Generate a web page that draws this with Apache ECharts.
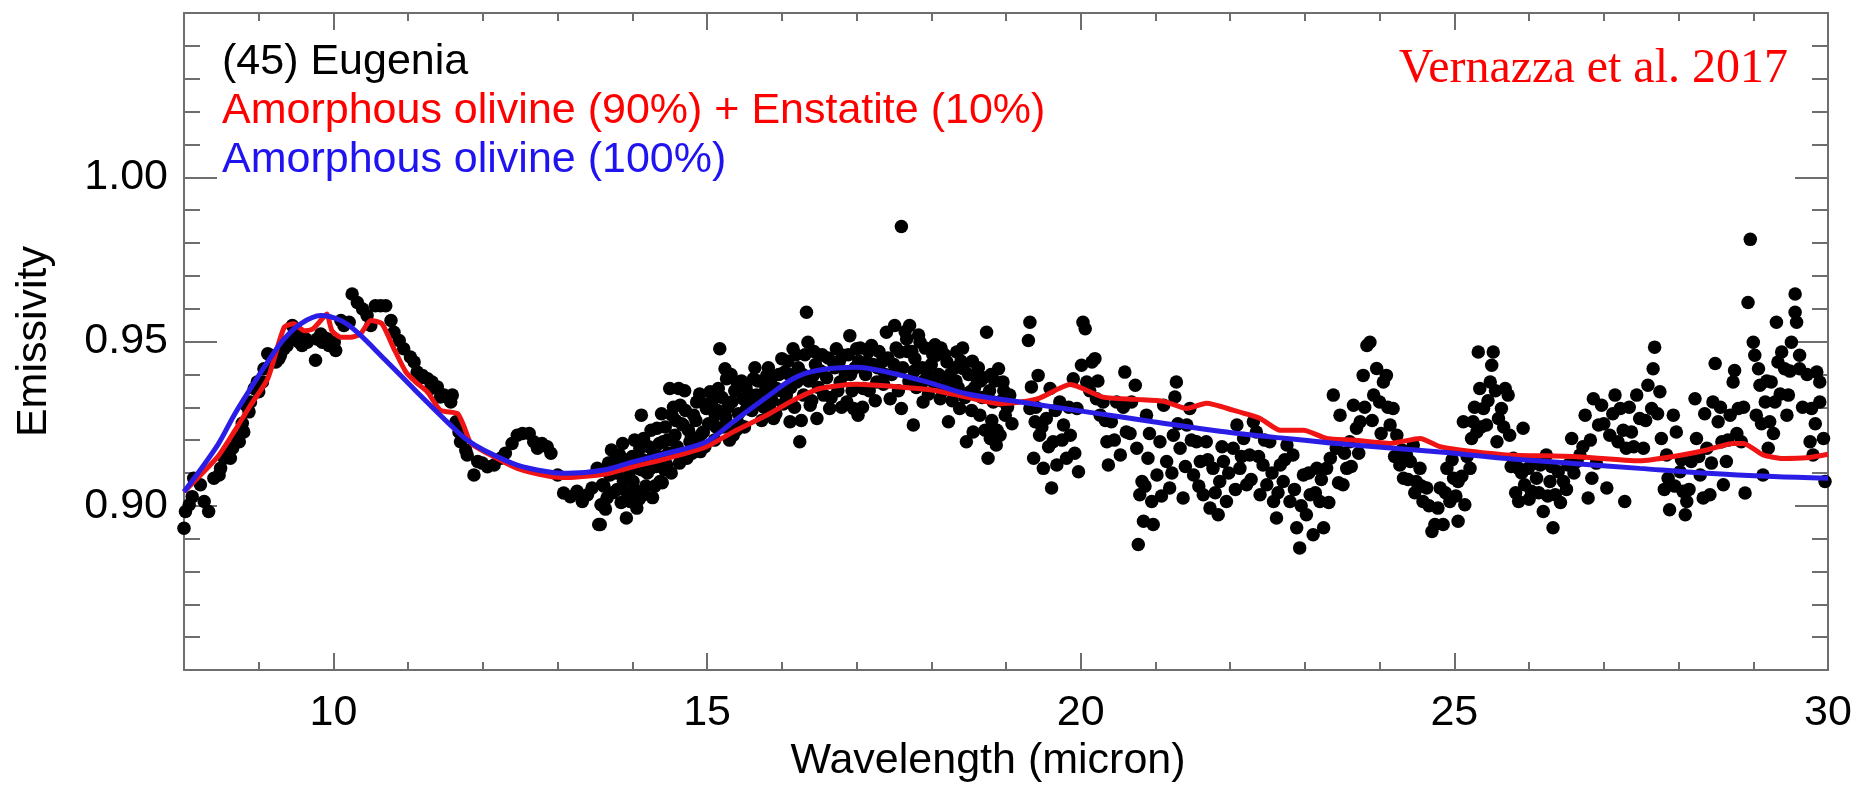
<!DOCTYPE html>
<html>
<head>
<meta charset="utf-8">
<script src="https://cdn.jsdelivr.net/npm/echarts@6/dist/echarts.min.js"></script>
<style>
html,body{margin:0;padding:0;background:#fff;}
#c{width:1867px;height:788px;}
</style>
</head>
<body>
<div id="c"></div>
<script>
// ---- Data ----
const xMajorTicks = [10, 15, 20, 25, 30];
const yLabelTicks = [0.90, 0.95, 1.00];

// Observed emissivity (wavelength micron, emissivity)
const obs8to13 = [[8.02,0.8983],[8.07,0.9003],[8.00,0.8932],[8.11,0.9028],[8.13,0.9084],[8.22,0.9064],[8.27,0.9013],[8.33,0.8983],[8.40,0.9084],[8.47,0.9094],[8.49,0.9114],[8.54,0.9145],[8.58,0.9160],[8.62,0.9145],[8.65,0.9175],[8.71,0.9205],[8.74,0.9195],[8.78,0.9251],[8.80,0.9225],[8.83,0.9306],[8.87,0.9286],[8.89,0.9316],[8.94,0.9357],[8.98,0.9377],[9.00,0.9347],[9.05,0.9377],[9.07,0.9417],[9.12,0.9463],[9.16,0.9458],[9.18,0.9438],[9.23,0.9438],[9.27,0.9448],[9.29,0.9458],[9.34,0.9478],[9.38,0.9488],[9.45,0.9549],[9.47,0.9513],[9.52,0.9518],[9.54,0.9498],[9.58,0.9488],[9.63,0.9508],[9.65,0.9498],[9.76,0.9443],[9.78,0.9508],[9.83,0.9523],[9.85,0.9498],[9.87,0.9513],[9.92,0.9508],[9.94,0.9488],[10.01,0.9498],[10.03,0.9473],[10.10,0.9564],[10.14,0.9549],[10.21,0.9559],[10.25,0.9645],[10.32,0.9619],[10.39,0.9599],[10.45,0.9579],[10.50,0.9549],[10.56,0.9609],[10.63,0.9609],[10.70,0.9609],[10.77,0.9564],[10.81,0.9528],[10.88,0.9503],[10.94,0.9478],[11.03,0.9453],[11.08,0.9438],[11.12,0.9407],[11.14,0.9387],[11.19,0.9397],[11.26,0.9387],[11.30,0.9357],[11.32,0.9377],[11.39,0.9362],[11.43,0.9331],[11.48,0.9337],[11.52,0.9331],[11.57,0.9316],[11.59,0.9337],[11.64,0.9256],[11.68,0.9225],[11.70,0.9195],[11.77,0.9170],[11.79,0.9155],[11.88,0.9094],[11.93,0.9135],[11.99,0.9130],[12.06,0.9119],[12.15,0.9124],[12.24,0.9145],[12.30,0.9160],[12.39,0.9190],[12.46,0.9215],[12.53,0.9220],[12.62,0.9220],[12.68,0.9195],[12.73,0.9175],[12.79,0.9190],[12.86,0.9180],[12.91,0.9160],[13.00,0.9094],[13.08,0.9039],[13.17,0.9028],[13.26,0.9044],[13.33,0.9013],[13.40,0.9034],[13.46,0.9054],[13.53,0.9114],[13.55,0.8943],[13.58,0.9003],[13.60,0.9064]];

const obs13to19 = [[13.57,0.8943],[13.66,0.9024],[13.70,0.9094],[13.75,0.9135],[13.83,0.9155],[13.88,0.9074],[13.92,0.8963],[13.97,0.9013],[14.01,0.9074],[14.06,0.8993],[14.08,0.9114],[14.10,0.9175],[14.15,0.9205],[14.15,0.9034],[14.12,0.9276],[14.24,0.9114],[14.28,0.9155],[14.33,0.9236],[14.37,0.9074],[14.41,0.9195],[14.46,0.9124],[14.50,0.9357],[14.53,0.9276],[14.57,0.9215],[14.62,0.9357],[14.64,0.9306],[14.68,0.9246],[14.73,0.9145],[14.77,0.9195],[14.82,0.9276],[14.86,0.9316],[14.91,0.9165],[14.95,0.9225],[14.99,0.9296],[15.04,0.9347],[15.11,0.9276],[15.15,0.9357],[15.17,0.9478],[15.24,0.9417],[15.26,0.9387],[15.33,0.9316],[15.35,0.9215],[15.40,0.9377],[15.44,0.9246],[15.48,0.9326],[15.53,0.9296],[15.62,0.9387],[15.66,0.9337],[15.75,0.9377],[15.80,0.9397],[15.84,0.9296],[15.89,0.9266],[15.93,0.9357],[16.00,0.9448],[16.04,0.9407],[16.06,0.9337],[16.11,0.9256],[16.15,0.9478],[16.20,0.9377],[16.24,0.9195],[16.29,0.9337],[16.33,0.9589],[16.35,0.9498],[16.38,0.9306],[16.42,0.9397],[16.47,0.9266],[16.51,0.9458],[16.56,0.9337],[16.64,0.9296],[16.69,0.9438],[16.73,0.9478],[16.78,0.9377],[16.82,0.9458],[16.87,0.9316],[16.91,0.9518],[16.96,0.9296],[17.00,0.9478],[17.02,0.9276],[17.09,0.9357],[17.14,0.9438],[17.20,0.9488],[17.27,0.9377],[17.34,0.9438],[17.40,0.9528],[17.45,0.9326],[17.51,0.9549],[17.58,0.9468],[17.60,0.9296],[17.60,0.9850],[17.67,0.9508],[17.71,0.9549],[17.76,0.9246],[17.78,0.9448],[17.85,0.9498],[17.89,0.9316],[17.94,0.9407],[17.98,0.9478],[18.03,0.9377],[18.07,0.9458],[18.12,0.9326],[18.21,0.9438],[18.23,0.9256],[18.30,0.9377],[18.34,0.9468],[18.38,0.9296],[18.43,0.9417],[18.47,0.9195],[18.52,0.9347],[18.56,0.9225],[18.61,0.9387],[18.65,0.9276],[18.74,0.9528],[18.76,0.9145],[18.79,0.9205],[18.83,0.9316],[18.87,0.9185],[18.90,0.9417],[18.92,0.9215],[18.96,0.9377],[18.99,0.9276],[19.05,0.9337]];

const obs13to19dense = [[13.62,0.9060],[13.68,0.9130],[13.74,0.9040],[13.79,0.9100],[13.85,0.9010],[13.90,0.9140],[13.95,0.9090],[14.00,0.9150],[14.05,0.9045],[14.12,0.9110],[14.18,0.9060],[14.22,0.9180],[14.27,0.9025],[14.32,0.9120],[14.36,0.9190],[14.40,0.9070],[14.44,0.9240],[14.48,0.9160],[14.52,0.9100],[14.55,0.9300],[14.60,0.9180],[14.66,0.9250],[14.70,0.9350],[14.75,0.9230],[14.80,0.9160],[14.85,0.9260],[14.90,0.9340],[14.93,0.9220],[14.97,0.9180],[15.02,0.9250],[15.07,0.9320],[15.10,0.9200],[15.14,0.9290],[15.20,0.9330],[15.22,0.9240],[15.28,0.9300],[15.30,0.9200],[15.37,0.9350],[15.42,0.9280],[15.46,0.9380],[15.50,0.9240],[15.56,0.9340],[15.60,0.9290],[15.64,0.9420],[15.70,0.9310],[15.73,0.9260],[15.78,0.9350],[15.82,0.9420],[15.87,0.9320],[15.92,0.9280],[15.96,0.9400],[16.02,0.9310],[16.08,0.9440],[16.12,0.9360],[16.17,0.9300],[16.22,0.9420],[16.26,0.9260],[16.31,0.9460],[16.36,0.9380],[16.40,0.9320],[16.45,0.9430],[16.49,0.9360],[16.54,0.9460],[16.60,0.9390],[16.66,0.9330],[16.71,0.9420],[16.75,0.9350],[16.80,0.9300],[16.85,0.9400],[16.89,0.9460],[16.94,0.9350],[16.98,0.9420],[17.05,0.9480],[17.08,0.9300],[17.12,0.9400],[17.17,0.9350],[17.22,0.9430],[17.25,0.9320],[17.30,0.9470],[17.36,0.9370],[17.42,0.9450],[17.47,0.9400],[17.53,0.9480],[17.56,0.9350],[17.62,0.9420],[17.65,0.9530],[17.70,0.9380],[17.74,0.9470],[17.80,0.9360],[17.83,0.9520],[17.88,0.9420],[17.92,0.9480],[17.96,0.9340],[18.00,0.9430],[18.05,0.9490],[18.10,0.9400],[18.15,0.9350],[18.18,0.9460],[18.25,0.9400],[18.28,0.9320],[18.32,0.9420],[18.36,0.9360],[18.40,0.9440],[18.45,0.9330],[18.50,0.9400],[18.54,0.9290],[18.58,0.9360],[18.63,0.9420],[18.68,0.9330],[18.70,0.9390],[18.72,0.9230],[18.78,0.9350],[18.81,0.9260],[18.85,0.9380],[18.88,0.9230],[18.94,0.9320],[19.02,0.9300],[19.08,0.9250]];

const obs13to19core = [[13.64,0.8990],[13.72,0.9170],[13.80,0.9050],[13.87,0.9190],[13.93,0.9040],[13.99,0.9120],[14.03,0.9200],[14.09,0.9020],[14.14,0.9140],[14.20,0.9100],[14.25,0.9230],[14.30,0.9060],[14.35,0.9150],[14.39,0.9280],[14.43,0.9110],[14.47,0.9200],[14.58,0.9260],[14.63,0.9130],[14.71,0.9290],[14.79,0.9210],[14.88,0.9200],[15.00,0.9310],[15.12,0.9240],[15.25,0.9270],[15.32,0.9400],[15.39,0.9230],[15.52,0.9360],[15.58,0.9320],[15.68,0.9380],[15.76,0.9300],[15.85,0.9380],[15.98,0.9350],[16.10,0.9400],[16.19,0.9460],[16.28,0.9400],[16.43,0.9470],[16.52,0.9410],[16.62,0.9450],[16.77,0.9440],[16.92,0.9400],[17.03,0.9440],[17.16,0.9470],[17.28,0.9420],[17.38,0.9400],[17.50,0.9430],[17.68,0.9470],[17.77,0.9410],[17.90,0.9380],[18.02,0.9460],[18.13,0.9480],[18.20,0.9370],[18.33,0.9380],[18.42,0.9480],[18.55,0.9440],[18.66,0.9380],[18.80,0.9400],[18.97,0.9350]];

const obs19to25 = [[19.32,0.9559],[19.30,0.9503],[19.34,0.9362],[19.32,0.9296],[19.39,0.9256],[19.43,0.9397],[19.37,0.9145],[19.45,0.9215],[19.50,0.9114],[19.54,0.9266],[19.59,0.9357],[19.61,0.9054],[19.63,0.9195],[19.68,0.9124],[19.72,0.9316],[19.77,0.9246],[19.81,0.9145],[19.86,0.9215],[19.90,0.9387],[19.95,0.9296],[19.97,0.9104],[20.03,0.9559],[20.06,0.9539],[20.01,0.9428],[20.08,0.9377],[20.15,0.9438],[20.19,0.9448],[20.21,0.9326],[20.26,0.9276],[20.30,0.9316],[20.35,0.9195],[20.37,0.9124],[20.41,0.9256],[20.48,0.9316],[20.53,0.9155],[20.59,0.9407],[20.61,0.9225],[20.68,0.9316],[20.73,0.9367],[20.75,0.9175],[20.79,0.9034],[20.82,0.9074],[20.84,0.8953],[20.77,0.8882],[20.88,0.9276],[20.90,0.9145],[20.95,0.9013],[20.97,0.8943],[21.02,0.9094],[21.06,0.9195],[21.11,0.9306],[21.15,0.9135],[21.19,0.9054],[21.24,0.9215],[21.28,0.9377],[21.26,0.9331],[21.33,0.9175],[21.37,0.9024],[21.42,0.9246],[21.46,0.9296],[21.51,0.9094],[21.55,0.9195],[21.60,0.9135],[21.64,0.9034],[21.68,0.9195],[21.73,0.8993],[21.77,0.9114],[21.84,0.8973],[21.86,0.9074],[21.91,0.9135],[21.95,0.9013],[22.04,0.9175],[22.09,0.9246],[22.13,0.9114],[22.18,0.9205],[22.22,0.9064],[22.26,0.9155],[22.31,0.9256],[22.35,0.9225],[22.40,0.9034],[22.44,0.9124],[22.49,0.9064],[22.53,0.9195],[22.58,0.9013],[22.62,0.8963],[22.67,0.9124],[22.71,0.9074],[22.76,0.9185],[22.80,0.9013],[22.84,0.9155],[22.89,0.8933],[22.93,0.8872],[22.98,0.9094],[23.02,0.8973],[23.07,0.9034],[23.11,0.8912],[23.16,0.9114],[23.20,0.9013],[23.25,0.8933],[23.29,0.9114],[23.34,0.9145],[23.38,0.9337],[23.42,0.9175],[23.47,0.9276],[23.51,0.9064],[23.56,0.9114],[23.60,0.9195],[23.65,0.9306],[23.69,0.9236],[23.74,0.9256],[23.78,0.9397],[23.83,0.9488],[23.87,0.9498],[23.92,0.9337],[23.96,0.9418],[24.00,0.9316],[24.05,0.9377],[24.09,0.9397],[24.14,0.9246],[24.18,0.9296],[24.23,0.9215],[24.27,0.9124],[24.32,0.9084],[24.36,0.9155],[24.41,0.9135],[24.45,0.9185],[24.49,0.9074],[24.54,0.9114],[24.58,0.9013],[24.63,0.9054],[24.70,0.8922],[24.74,0.8943],[24.78,0.8993]];

const obs19to25dense = [[19.40,0.9300],[19.48,0.9240],[19.57,0.9180],[19.66,0.9290],[19.75,0.9200],[19.84,0.9300],[19.92,0.9160],[20.12,0.9350],[20.23,0.9380],[20.33,0.9260],[20.45,0.9200],[20.57,0.9300],[20.66,0.9220],[20.86,0.9060],[20.92,0.9220],[21.08,0.9030],[21.22,0.9100],[21.30,0.9250],[21.40,0.9120],[21.48,0.9200],[21.58,0.9060],[21.70,0.9140],[21.80,0.9040],[21.89,0.9180],[21.98,0.9100],[22.07,0.9050],[22.15,0.9150],[22.28,0.9080],[22.38,0.9150],[22.46,0.9200],[22.56,0.9100],[22.64,0.9040],[22.73,0.9140],[22.86,0.9050],[22.95,0.9000],[23.05,0.9100],[23.14,0.9040],[23.22,0.9080],[23.32,0.9010],[23.45,0.9070],[23.53,0.9160],[23.62,0.9120],[23.72,0.9160],[23.80,0.9300],[23.90,0.9260],[24.02,0.9220],[24.11,0.9300],[24.20,0.9150],[24.30,0.9170],[24.38,0.9080],[24.47,0.9040],[24.56,0.9060],[24.66,0.9000]];

const obs25to30 = [[24.81,0.9054],[24.85,0.8943],[24.90,0.9114],[24.94,0.9013],[24.99,0.9084],[25.05,0.8953],[25.05,0.9074],[25.12,0.9256],[25.14,0.9003],[25.21,0.9114],[25.23,0.9205],[25.25,0.9256],[25.30,0.9225],[25.32,0.9468],[25.34,0.9357],[25.39,0.9296],[25.43,0.9246],[25.48,0.9377],[25.50,0.9428],[25.52,0.9468],[25.57,0.9195],[25.59,0.9266],[25.63,0.9296],[25.68,0.9357],[25.72,0.9337],[25.74,0.9215],[25.79,0.9145],[25.86,0.9114],[25.86,0.9013],[25.92,0.9236],[25.94,0.9064],[25.99,0.9114],[26.03,0.9044],[26.10,0.9084],[26.15,0.9124],[26.19,0.8983],[26.23,0.9155],[26.28,0.9074],[26.32,0.8933],[26.35,0.9034],[26.39,0.9104],[26.46,0.9074],[26.52,0.9124],[26.57,0.9205],[26.64,0.9135],[26.68,0.9155],[26.75,0.9276],[26.79,0.9024],[26.84,0.9084],[26.86,0.9326],[26.93,0.9246],[26.97,0.9306],[27.04,0.9054],[27.08,0.9215],[27.15,0.9337],[27.19,0.9195],[27.22,0.9296],[27.28,0.9013],[27.30,0.9175],[27.37,0.9225],[27.44,0.9337],[27.48,0.9266],[27.53,0.9175],[27.59,0.9367],[27.64,0.9296],[27.66,0.9417],[27.68,0.9483],[27.75,0.9347],[27.77,0.9205],[27.84,0.9155],[27.86,0.9084],[27.88,0.8988],[27.93,0.9276],[27.97,0.9225],[28.02,0.9104],[28.06,0.9044],[28.09,0.8973],[28.11,0.9013],[28.17,0.9135],[28.22,0.9326],[28.24,0.9205],[28.29,0.9094],[28.33,0.9024],[28.38,0.9175],[28.42,0.9034],[28.46,0.9316],[28.49,0.9433],[28.53,0.9256],[28.58,0.9195],[28.60,0.9064],[28.64,0.9135],[28.69,0.9276],[28.73,0.9377],[28.75,0.9412],[28.80,0.9296],[28.84,0.9195],[28.89,0.9039],[28.93,0.9619],[28.96,0.9811],[29.00,0.9498],[29.02,0.9458],[29.04,0.9276],[29.07,0.9417],[29.09,0.9367],[29.13,0.9094],[29.16,0.9316],[29.20,0.9175],[29.22,0.9256],[29.24,0.9377],[29.29,0.9316],[29.31,0.9559],[29.33,0.9438],[29.38,0.9468],[29.42,0.9417],[29.45,0.9276],[29.47,0.9337],[29.51,0.9498],[29.56,0.9589],[29.58,0.9559],[29.56,0.9645],[29.62,0.9458],[29.62,0.9417],[29.76,0.9195],[29.78,0.9296],[29.80,0.9155],[29.85,0.9407],[29.89,0.9377],[29.89,0.9316],[29.94,0.9205],[29.96,0.9074]];

const obs25to30dense = [[24.88,0.9040],[24.97,0.9140],[25.02,0.9030],[25.10,0.9090],[25.17,0.9150],[25.27,0.9300],[25.36,0.9240],[25.45,0.9320],[25.55,0.9350],[25.66,0.9240],[25.76,0.9120],[25.82,0.9040],[25.90,0.9100],[26.00,0.9020],[26.07,0.9130],[26.13,0.9040],[26.25,0.9030],[26.30,0.9120],[26.42,0.9010],[26.50,0.9050],[26.60,0.9100],[26.72,0.9180],[26.82,0.9200],[26.90,0.9130],[27.00,0.9250],[27.12,0.9280],[27.26,0.9230],[27.34,0.9300],[27.40,0.9180],[27.56,0.9260],[27.72,0.9280],[27.81,0.9050],[27.95,0.9060],[28.04,0.9140],[28.14,0.9050],[28.27,0.9150],[28.35,0.9280],[28.44,0.9130],[28.56,0.9300],[28.66,0.9200],[28.78,0.9220],[28.87,0.9300],[29.11,0.9250],[29.18,0.9380],[29.27,0.9220],[29.36,0.9340],[29.49,0.9410],[29.66,0.9300],[29.72,0.9400],[29.83,0.9250]];

// Model: Amorphous olivine (90%) + Enstatite (10%)
const modelMix = [[8.00,0.9043],[8.45,0.9149],[8.67,0.9225],[8.89,0.9306],[9.12,0.9387],[9.34,0.9543],[9.47,0.9554],[9.61,0.9533],[9.72,0.9538],[9.81,0.9559],[9.91,0.9584],[9.98,0.9533],[10.10,0.9513],[10.23,0.9513],[10.36,0.9523],[10.50,0.9564],[10.65,0.9554],[10.81,0.9478],[10.97,0.9407],[11.10,0.9377],[11.26,0.9346],[11.43,0.9291],[11.66,0.9281],[11.75,0.9240],[11.84,0.9190],[12.10,0.9155],[12.46,0.9114],[12.91,0.9089],[13.13,0.9086],[13.62,0.9096],[14.01,0.9119],[14.46,0.9144],[14.99,0.9180],[15.35,0.9225],[15.80,0.9276],[16.15,0.9321],[16.51,0.9357],[17.00,0.9370],[17.58,0.9362],[18.03,0.9352],[18.47,0.9331],[18.92,0.9311],[19.19,0.9316],[19.45,0.9328],[19.86,0.9369],[20.30,0.9331],[20.75,0.9324],[21.11,0.9318],[21.42,0.9296],[21.68,0.9312],[22.04,0.9291],[22.40,0.9266],[22.67,0.9230],[22.98,0.9230],[23.29,0.9205],[23.65,0.9200],[24.14,0.9190],[24.54,0.9205],[24.81,0.9180],[25.07,0.9170],[25.70,0.9155],[26.59,0.9150],[27.48,0.9137],[27.93,0.9150],[28.38,0.9170],[28.73,0.9190],[28.87,0.9190],[29.13,0.9155],[29.40,0.9144],[29.71,0.9146],[30.00,0.9157]];

// Model: Amorphous olivine (100%)
const modelOlivine = [[8.00,0.9043],[8.45,0.9185],[8.67,0.9276],[8.89,0.9357],[9.12,0.9438],[9.34,0.9508],[9.56,0.9554],[9.83,0.9579],[10.10,0.9564],[10.32,0.9528],[10.68,0.9447],[11.12,0.9346],[11.57,0.9245],[11.79,0.9200],[12.01,0.9170],[12.46,0.9124],[12.91,0.9102],[13.13,0.9099],[13.62,0.9109],[14.01,0.9134],[14.46,0.9160],[14.99,0.9195],[15.35,0.9256],[15.80,0.9331],[16.15,0.9387],[16.47,0.9412],[17.00,0.9422],[17.45,0.9405],[17.94,0.9377],[18.47,0.9341],[19.19,0.9316],[20.08,0.9286],[20.97,0.9256],[21.86,0.9227],[22.75,0.9205],[23.65,0.9185],[24.81,0.9164],[25.70,0.9144],[26.59,0.9129],[27.48,0.9114],[28.38,0.9099],[29.27,0.9089],[30.00,0.9084]];

// ---- Chart ----
const FONT = "'Liberation Sans', Arial, Helvetica, sans-serif";
const AX = '#6e6e6e';
const allObs = [].concat(obs8to13, obs13to19, obs13to19dense, obs13to19core, obs19to25, obs19to25dense, obs25to30, obs25to30dense);

const chart = echarts.init(document.getElementById('c'), null, {renderer: 'canvas'});

function xAxisMajor(pos, withLabel) {
  return {
    type: 'value', position: pos, min: 8, max: 30,
    axisLine: {show: true, onZero: false, lineStyle: {color: AX, width: 2}},
    axisTick: {show: true, inside: true, length: 17, customValues: xMajorTicks, lineStyle: {color: AX, width: 2}},
    axisLabel: withLabel ? {show: true, customValues: xMajorTicks, margin: 22, fontSize: 43, color: '#000', fontFamily: FONT} : {show: false},
    splitLine: {show: false},
    name: withLabel ? 'Wavelength (micron)' : '',
    nameLocation: 'middle', nameGap: 64,
    nameTextStyle: {fontSize: 43, color: '#000', fontFamily: FONT, padding: [0, 36, 0, 0]}
  };
}
function xAxisMinor(pos) {
  return {
    type: 'value', position: pos, min: 8, max: 30, interval: 1,
    axisLine: {show: false, onZero: false},
    axisTick: {show: true, inside: true, length: 8, lineStyle: {color: AX, width: 2}},
    axisLabel: {show: false}, splitLine: {show: false}
  };
}
function yAxisDef(pos, withLabel) {
  return {
    type: 'value', position: pos, min: 0.85, max: 1.05, interval: 0.05,
    axisLine: {show: true, onZero: false, lineStyle: {color: AX, width: 2}},
    axisTick: {show: true, inside: true, length: 33, lineStyle: {color: AX, width: 2}},
    minorTick: {show: true, splitNumber: 5, length: 16, lineStyle: {color: AX, width: 2}},
    axisLabel: withLabel ? {
      show: true, margin: 16, fontSize: 43, color: '#000', fontFamily: FONT,
      formatter: function (v) {
        for (const t of yLabelTicks) { if (Math.abs(v - t) < 1e-6) return t.toFixed(2); }
        return '';
      }
    } : {show: false},
    splitLine: {show: false}, minorSplitLine: {show: false},
    name: withLabel ? 'Emissivity' : '',
    nameLocation: 'middle', nameRotate: 90, nameGap: 128,
    nameTextStyle: {fontSize: 43, color: '#000', fontFamily: FONT}
  };
}

chart.setOption({
  animation: false,
  backgroundColor: '#fff',
  grid: {left: 184, right: 39, top: 13, bottom: 115, containLabel: false},
  xAxis: [xAxisMajor('bottom', true), xAxisMinor('bottom'), xAxisMajor('top', false), xAxisMinor('top')],
  yAxis: [yAxisDef('left', true), yAxisDef('right', false)],
  series: [
    {type: 'scatter', name: '(45) Eugenia', xAxisIndex: 0, yAxisIndex: 0, data: allObs,
     symbol: 'circle', symbolSize: 13.5, itemStyle: {color: '#000', opacity: 1}, silent: true},
    {type: 'line', name: 'Amorphous olivine (90%) + Enstatite (10%)', xAxisIndex: 0, yAxisIndex: 0,
     data: modelMix, showSymbol: false, smooth: 0.2, lineStyle: {color: '#f01414', width: 5}, silent: true},
    {type: 'line', name: 'Amorphous olivine (100%)', xAxisIndex: 0, yAxisIndex: 0,
     data: modelOlivine, showSymbol: false, smooth: 0.35, lineStyle: {color: '#2a1ee6', width: 5}, silent: true}
  ],
  graphic: [
    {type: 'text', left: 222, top: 41, style: {text: '(45) Eugenia', fill: '#000', font: "43px " + FONT}},
    {type: 'text', left: 222, top: 90, style: {text: 'Amorphous olivine (90%) + Enstatite (10%)', fill: '#ff0000', font: "43px " + FONT}},
    {type: 'text', left: 222, top: 139, style: {text: 'Amorphous olivine (100%)', fill: '#1f14f0', font: "43px " + FONT}},
    {type: 'text', right: 79, top: 45, style: {text: 'Vernazza et al. 2017', fill: '#ff0000', font: "48px 'Liberation Serif', 'Times New Roman', serif"}}
  ]
});
</script>
</body>
</html>
